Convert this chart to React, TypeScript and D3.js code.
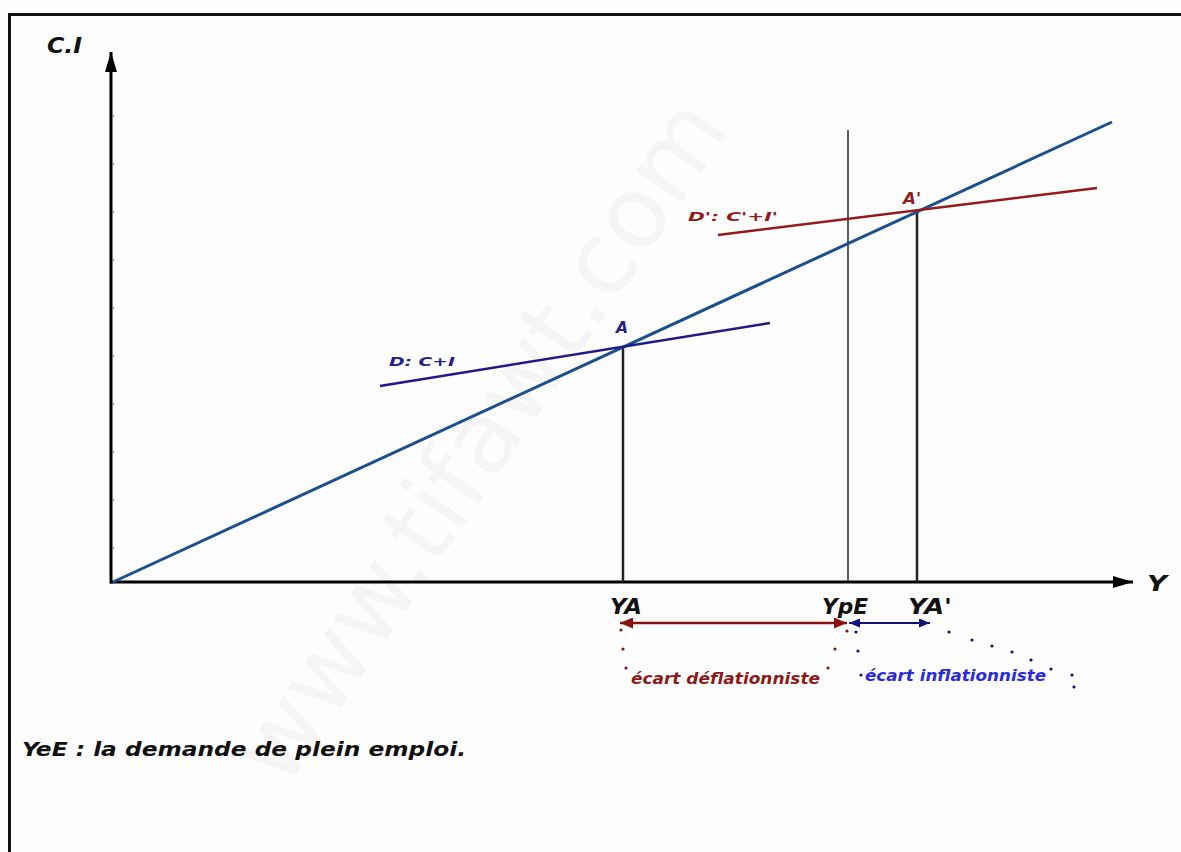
import { useEffect, useRef } from 'react';
import * as d3 from 'd3';

// economic units: Y (income) on x, C+I on y
const axisMax = { x: 102, y: 53 };
const yTicks = [3.4, 8.2, 13, 17.8, 22.6, 27.4, 32.2, 37, 41.8, 46.6];

const line45 = [[0, 0], [99.9, 46]];
const demandD = [[26.7, 19.6], [65.7, 25.9]];
const demandD2 = [[60.5, 34.7], [98.4, 39.4]];

const pointA = { x: 51, y: 23.5, label: 'A' };
const pointA2 = { x: 80.4, y: 37.2, label: "A'" };
const ypE = { x: 73.5, top: 45.2 };

const xLabels = [
  { x: 51.3, text: 'YA', w: 32 },
  { x: 73.2, text: 'YpE', w: 46 },
  { x: 81.7, text: "YA'", w: 44 },
];

// dotted guides under the gaps (x in units, y in px offset below axis)
const redDots = [[50.8, 48], [51, 67], [51.3, 86], [71.5, 86], [72.2, 67], [73.4, 49]];
const blueDots = [[74.3, 50], [74.5, 69], [74.8, 93], [83.6, 50], [85.9, 58], [87.9, 64], [89.9, 70], [91.8, 78], [93.8, 87], [95.9, 93], [96.1, 105]];

export default function App() {
  const svgRef = useRef<SVGSVGElement | null>(null);

  useEffect(() => {
    if (!svgRef.current) return;
    const svg = d3.select(svgRef.current);
    svg.selectAll('*').remove();

    const W = 1181, H = 852;
    const x = d3.scaleLinear().domain([0, 100]).range([113, 1113]);
    const y = d3.scaleLinear().domain([0, 50]).range([582, 82]);
    const font = '"DejaVu Sans", Verdana, sans-serif';

    svg.append('rect').attr('width', W).attr('height', H).attr('fill', '#fdfdfd');

    // watermark (very faint)
    svg.append('text')
      .attr('transform', 'translate(285,790) rotate(-56)')
      .style('font-family', font).style('font-size', '100px')
      .attr('fill', '#f5f5f5').text('www.tifawt.com');

    // frame
    svg.append('path').attr('d', `M9.5,${H + 5}V14.5H${W + 5}`)
      .attr('fill', 'none').attr('stroke', '#111').attr('stroke-width', 3);

    const defs = svg.append('defs');
    const marker = (id: string, color: string, w: number, h: number) => {
      defs.append('marker').attr('id', id).attr('viewBox', `0 0 ${w} ${h}`)
        .attr('refX', w).attr('refY', h / 2).attr('markerWidth', w).attr('markerHeight', h)
        .attr('markerUnits', 'userSpaceOnUse').attr('orient', 'auto-start-reverse')
        .append('path').attr('d', `M0,0L${w},${h / 2}L0,${h}Z`).attr('fill', color);
    };
    marker('axisArrow', '#000', 20, 12);
    marker('redArrow', '#8b1111', 13, 11);
    marker('blueArrow', '#10107a', 11, 9);

    // axes
    svg.append('line').attr('x1', x(0) - 3).attr('y1', y(0)).attr('x2', x(axisMax.x)).attr('y2', y(0))
      .attr('stroke', '#000').attr('stroke-width', 3).attr('marker-end', 'url(#axisArrow)');
    svg.append('line').attr('x1', x(0) - 2).attr('y1', y(0) + 1.5).attr('x2', x(0) - 2).attr('y2', y(axisMax.y))
      .attr('stroke', '#000').attr('stroke-width', 3).attr('marker-end', 'url(#axisArrow)');
    svg.selectAll('.ytick').data(yTicks).join('line')
      .attr('x1', x(0) - 1).attr('x2', x(0) + 1).attr('y1', d => y(d)).attr('y2', d => y(d))
      .attr('stroke', '#777').attr('stroke-width', 1.5);

    const label = (tx: number, ty: number, text: string, color: string, size: number, anchor = 'start', len?: number) => {
      const t = svg.append('text').attr('x', tx).attr('y', ty).attr('text-anchor', anchor)
        .style('font-family', font).style('font-size', `${size}px`).style('font-weight', 'bold').style('font-style', 'italic')
        .attr('fill', color).text(text);
      if (len) t.attr('textLength', len).attr('lengthAdjust', 'spacingAndGlyphs');
      return t;
    };

    label(47, 53, 'C.I', '#111', 21, 'start', 35);
    label(1147, 591, 'Y', '#111', 22, 'start', 20);

    const lineGen = d3.line<number[]>().x(d => x(d[0])).y(d => y(d[1]));

    // verticals
    [pointA, pointA2].forEach(p => {
      svg.append('line').attr('x1', x(p.x)).attr('x2', x(p.x)).attr('y1', y(p.y)).attr('y2', y(0))
        .attr('stroke', '#222').attr('stroke-width', 2.5);
    });
    svg.append('line').attr('x1', x(ypE.x)).attr('x2', x(ypE.x)).attr('y1', y(ypE.top)).attr('y2', y(0))
      .attr('stroke', '#333').attr('stroke-width', 1.6);

    // curves
    svg.append('path').attr('d', lineGen(line45)).attr('fill', 'none').attr('stroke', '#1c4f8f').attr('stroke-width', 3);
    svg.append('path').attr('d', lineGen(demandD)).attr('fill', 'none').attr('stroke', '#1f1a8a').attr('stroke-width', 2.5);
    svg.append('path').attr('d', lineGen(demandD2)).attr('fill', 'none').attr('stroke', '#921c1c').attr('stroke-width', 2.5);

    label(x(pointA.x) - 1, y(pointA.y) - 14, pointA.label, '#22208a', 15, 'middle', 12);
    label(x(pointA2.x) - 5, y(pointA2.y) - 6, pointA2.label, '#921c1c', 15, 'middle', 18);
    label(389, 366, 'D: C+I', '#22208a', 13, 'start', 66);
    label(688, 221, "D': C'+I'", '#921c1c', 13, 'start', 90);

    xLabels.forEach(l => label(x(l.x), 614, l.text, '#111', 21, 'middle', l.w));

    // gap arrows
    svg.append('line').attr('x1', x(ypE.x) - 1).attr('x2', x(pointA.x) - 3).attr('y1', 623).attr('y2', 623)
      .attr('stroke', '#8b1111').attr('stroke-width', 2.5)
      .attr('marker-start', 'url(#redArrow)').attr('marker-end', 'url(#redArrow)');
    svg.append('line').attr('x1', x(ypE.x) + 1).attr('x2', x(pointA2.x) + 13).attr('y1', 623).attr('y2', 623)
      .attr('stroke', '#10107a').attr('stroke-width', 2.2)
      .attr('marker-start', 'url(#blueArrow)').attr('marker-end', 'url(#blueArrow)');

    svg.selectAll('.rdot').data(redDots).join('circle')
      .attr('cx', d => x(d[0])).attr('cy', d => y(0) + d[1]).attr('r', 1.6).attr('fill', '#8b1111');
    svg.selectAll('.bdot').data(blueDots).join('circle')
      .attr('cx', d => x(d[0])).attr('cy', d => y(0) + d[1]).attr('r', 1.6).attr('fill', '#10107a');

    label(631, 684, 'écart déflationniste', '#8b1a1a', 15, 'start', 189);
    label(865, 681, 'écart inflationniste', '#2a2ae0', 15, 'start', 181);

    label(22, 756, 'YeE : la demande de plein emploi.', '#111', 20, 'start', 444);
  }, []);

  return (
    <svg ref={svgRef} width={1181} height={852}
      style={{ position: 'absolute', left: 0, top: 0, display: 'block' }} />
  );
}
